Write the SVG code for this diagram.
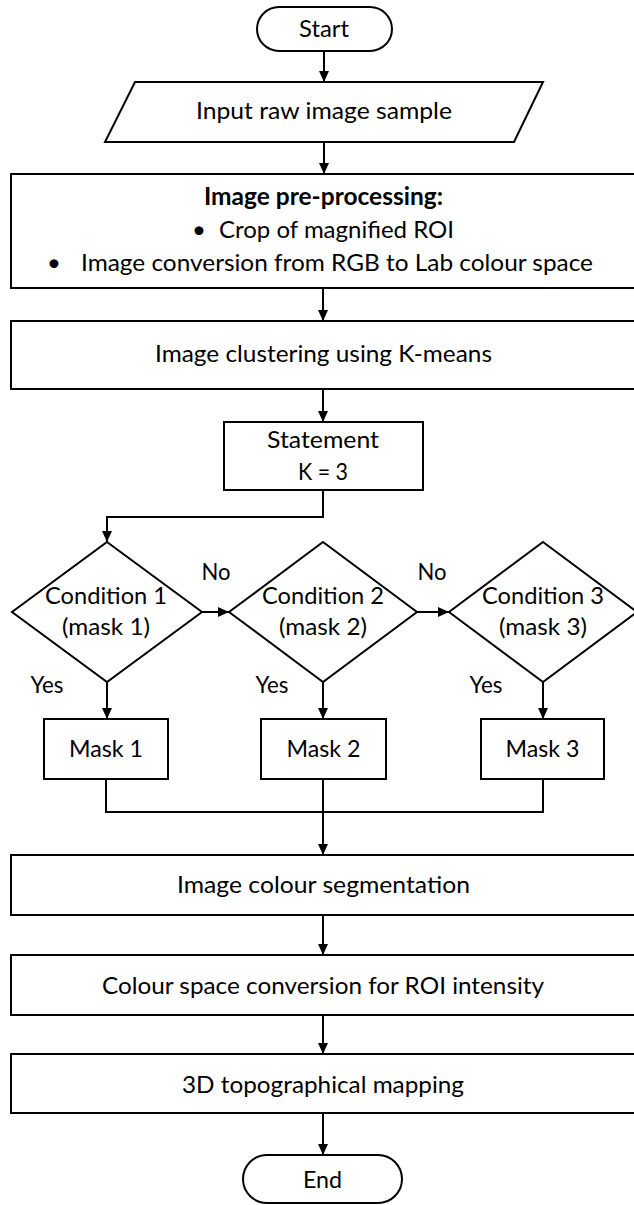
<svg xmlns="http://www.w3.org/2000/svg" width="634" height="1205" viewBox="0 0 634 1205">
<defs>
<style>
.s{fill:#fff;stroke:#000;stroke-width:2}
.t{font-family:Lato,"Open Sans","Liberation Sans",sans-serif;font-size:24px;fill:#000;text-anchor:middle}
.b{font-weight:700}
.l{text-anchor:start}
.c{fill:none;stroke:#000;stroke-width:2}
</style>
<marker id="ah" markerUnits="userSpaceOnUse" markerWidth="12" markerHeight="10" refX="11" refY="5" orient="auto">
<path d="M0,0 L11,5 L0,10 z" fill="#000"/>
</marker>
</defs>
<rect width="634" height="1205" fill="#fff"/>
<g id="connectors">
<path class="c" d="M324,51 V82" marker-end="url(#ah)"/>
<path class="c" d="M324,142 V174" marker-end="url(#ah)"/>
<path class="c" d="M323,288 V321" marker-end="url(#ah)"/>
<path class="c" d="M323,389 V422" marker-end="url(#ah)"/>
<path class="c" d="M323,490 V517 H107 V542" marker-end="url(#ah)"/>
<path class="c" d="M202,612 H229" marker-end="url(#ah)"/>
<path class="c" d="M417,612 H449" marker-end="url(#ah)"/>
<path class="c" d="M107,682 V719" marker-end="url(#ah)"/>
<path class="c" d="M323,682 V719" marker-end="url(#ah)"/>
<path class="c" d="M543,682 V719" marker-end="url(#ah)"/>
<path class="c" d="M106,779 V812 H543 V779"/>
<path class="c" d="M323,779 V855" marker-end="url(#ah)"/>
<path class="c" d="M323,915 V955" marker-end="url(#ah)"/>
<path class="c" d="M323,1015 V1054" marker-end="url(#ah)"/>
<path class="c" d="M323,1113 V1155" marker-end="url(#ah)"/>
</g>
<g id="start">
<rect class="s" x="257" y="7" width="135" height="44" rx="22"/>
<text class="t" x="324" y="37" textLength="50" lengthAdjust="spacingAndGlyphs">Start</text>
</g>
<g id="input">
<polygon class="s" points="135,82 543,82 514,142 105,142"/>
<text class="t" x="324" y="119" textLength="256" lengthAdjust="spacingAndGlyphs">Input raw image sample</text>
</g>
<g id="preprocessing">
<rect class="s" x="11" y="174" width="624" height="114"/>
<text class="t b" x="323.5" y="205" textLength="239" lengthAdjust="spacingAndGlyphs">Image pre-processing:</text>
<text class="t" x="199" y="238">•</text>
<text class="t l" x="219" y="238" textLength="235" lengthAdjust="spacingAndGlyphs">Crop of magnified ROI</text>
<text class="t" x="54" y="271">•</text>
<text class="t l" x="81" y="271" textLength="512" lengthAdjust="spacingAndGlyphs">Image conversion from RGB to Lab colour space</text>
</g>
<g id="clustering">
<rect class="s" x="11" y="321" width="624" height="68"/>
<text class="t" x="323.5" y="362" textLength="337" lengthAdjust="spacingAndGlyphs">Image clustering using K-means</text>
</g>
<g id="statement">
<rect class="s" x="224" y="422" width="199" height="68"/>
<text class="t" x="323" y="448" textLength="112" lengthAdjust="spacingAndGlyphs">Statement</text>
<text class="t" x="323" y="480" textLength="50" lengthAdjust="spacingAndGlyphs">K = 3</text>
</g>
<g id="condition1">
<polygon class="s" points="107,542 202,612 107,682 12,612"/>
<text class="t" x="106" y="604" textLength="122" lengthAdjust="spacingAndGlyphs">Condition 1</text>
<text class="t" x="106" y="635" textLength="88" lengthAdjust="spacingAndGlyphs">(mask 1)</text>
</g>
<g id="condition2">
<polygon class="s" points="323,542 417,612 323,682 229,612"/>
<text class="t" x="323" y="604" textLength="122" lengthAdjust="spacingAndGlyphs">Condition 2</text>
<text class="t" x="323" y="635" textLength="88" lengthAdjust="spacingAndGlyphs">(mask 2)</text>
</g>
<g id="condition3">
<polygon class="s" points="543,542 637,612 543,682 449,612"/>
<text class="t" x="543" y="604" textLength="122" lengthAdjust="spacingAndGlyphs">Condition 3</text>
<text class="t" x="543" y="635" textLength="88" lengthAdjust="spacingAndGlyphs">(mask 3)</text>
</g>
<g id="labels">
<text class="t" x="216" y="580" textLength="29" lengthAdjust="spacingAndGlyphs">No</text>
<text class="t" x="432" y="580" textLength="29" lengthAdjust="spacingAndGlyphs">No</text>
<text class="t" x="47" y="693" textLength="33" lengthAdjust="spacingAndGlyphs">Yes</text>
<text class="t" x="272" y="693" textLength="33" lengthAdjust="spacingAndGlyphs">Yes</text>
<text class="t" x="486" y="693" textLength="33" lengthAdjust="spacingAndGlyphs">Yes</text>
</g>
<g id="mask1">
<rect class="s" x="44" y="719" width="124" height="60"/>
<text class="t" x="106" y="757" textLength="74" lengthAdjust="spacingAndGlyphs">Mask 1</text>
</g>
<g id="mask2">
<rect class="s" x="261" y="719" width="125" height="60"/>
<text class="t" x="323.5" y="757" textLength="74" lengthAdjust="spacingAndGlyphs">Mask 2</text>
</g>
<g id="mask3">
<rect class="s" x="481" y="719" width="123" height="60"/>
<text class="t" x="542.5" y="757" textLength="74" lengthAdjust="spacingAndGlyphs">Mask 3</text>
</g>
<g id="segmentation">
<rect class="s" x="11" y="855" width="624" height="60"/>
<text class="t" x="323.5" y="893" textLength="293" lengthAdjust="spacingAndGlyphs">Image colour segmentation</text>
</g>
<g id="conversion">
<rect class="s" x="11" y="955" width="624" height="60"/>
<text class="t" x="323" y="994" textLength="442" lengthAdjust="spacingAndGlyphs">Colour space conversion for ROI intensity</text>
</g>
<g id="mapping">
<rect class="s" x="11" y="1054" width="624" height="59"/>
<text class="t" x="323" y="1093" textLength="282" lengthAdjust="spacingAndGlyphs">3D topographical mapping</text>
</g>
<g id="end">
<rect class="s" x="243" y="1155" width="159" height="48" rx="24"/>
<text class="t" x="322.5" y="1188" textLength="39" lengthAdjust="spacingAndGlyphs">End</text>
</g>
</svg>
